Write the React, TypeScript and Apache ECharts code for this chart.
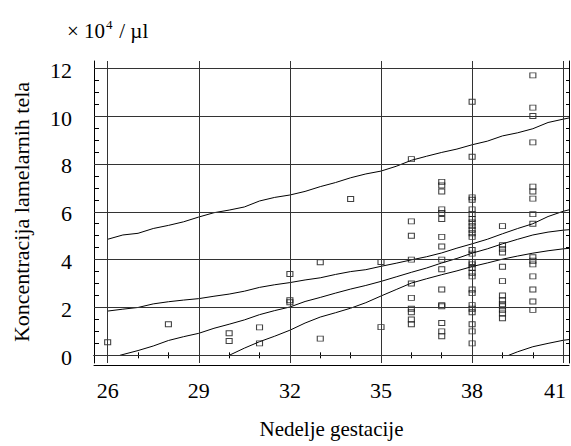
import React, { useEffect, useRef } from "react";
import * as echarts from "echarts";

// Gestational week of each measurement column
const weeks = [26, 28, 30, 31, 32, 33, 34, 35, 36, 37, 38, 39, 40];

// Lamellar body counts (×10^4 / µl) measured in each week
const counts: number[][] = [
  [0.55],
  [1.3],
  [0.92, 0.6],
  [1.17, 0.5],
  [3.4, 2.3, 2.22],
  [3.89, 0.7],
  [6.53],
  [3.9, 1.18],
  [8.2, 5.6, 5.0, 4.0, 3.0, 2.4, 1.95, 1.8, 1.5, 1.3],
  [7.25, 7.1, 6.85, 6.1, 5.95, 5.7, 4.95, 4.55, 4.0, 3.6, 2.75, 2.1, 2.05, 1.35, 1.0, 0.8],
  [10.6, 8.3, 6.6, 6.5, 6.1, 5.9, 5.7, 5.55, 5.4, 5.25, 5.1, 4.95, 4.4, 4.25, 3.9, 3.8, 3.65, 3.45, 3.3, 2.75, 2.6, 2.1, 1.95, 1.8, 1.3, 1.0, 0.5],
  [5.4, 4.6, 4.45, 4.3, 3.7, 3.1, 2.5, 2.3, 2.15, 2.05, 1.9, 1.75, 1.55],
  [11.7, 10.35, 10.0, 8.9, 7.05, 6.85, 6.55, 5.9, 5.5, 4.1, 3.95, 3.8, 3.3, 2.75, 2.25, 1.9],
];

// Reference curves: [week, concentration]
const curveUpper: [number, number][] = [
  [26, 4.85], [26.5, 5.03], [27, 5.1], [27.5, 5.3], [28, 5.43], [28.5, 5.58], [29, 5.78],
  [29.5, 5.96], [30, 6.07], [30.5, 6.2], [31, 6.45], [31.5, 6.6], [32, 6.7], [32.5, 6.85],
  [33, 7.05], [33.5, 7.22], [34, 7.42], [34.5, 7.58], [35, 7.7], [35.5, 7.9], [36, 8.15],
  [36.5, 8.32], [37, 8.48], [37.5, 8.62], [38, 8.8], [38.5, 8.95], [39, 9.17], [39.5, 9.3],
  [40, 9.47], [40.5, 9.73], [41, 9.87], [41.19, 9.92],
];
const curveUpperMid: [number, number][] = [
  [26, 1.85], [26.5, 1.93], [27, 2.0], [27.5, 2.15], [28, 2.24], [28.5, 2.31], [29, 2.37],
  [29.5, 2.47], [30, 2.56], [30.5, 2.68], [31, 2.84], [31.5, 2.95], [32, 3.04], [32.5, 3.15],
  [33, 3.24], [33.5, 3.38], [34, 3.5], [34.5, 3.58], [35, 3.72], [35.5, 3.85], [36, 3.99],
  [36.5, 4.12], [37, 4.28], [37.5, 4.48], [38, 4.66], [38.5, 4.85], [39, 5.08], [39.5, 5.3],
  [40, 5.5], [40.5, 5.8], [41, 6.02], [41.19, 6.08],
];
const curveMedian: [number, number][] = [
  [26.4, 0], [27, 0.2], [27.5, 0.39], [28, 0.62], [28.5, 0.78], [29, 0.92], [29.5, 1.13],
  [30, 1.3], [30.5, 1.48], [31, 1.7], [31.5, 1.87], [32, 2.02], [32.5, 2.25], [33, 2.42],
  [33.5, 2.6], [34, 2.77], [34.5, 2.92], [35, 3.09], [35.5, 3.28], [36, 3.47], [36.5, 3.65],
  [37, 3.86], [37.5, 4.05], [38, 4.27], [38.5, 4.45], [39, 4.66], [39.5, 4.85], [40, 5.03],
  [40.5, 5.15], [41, 5.23], [41.19, 5.25],
];
const curveLowerMid: [number, number][] = [
  [30, 0], [30.5, 0.3], [31, 0.57], [31.5, 0.8], [32, 1.05], [32.5, 1.35], [33, 1.6],
  [33.5, 1.78], [34, 1.97], [34.5, 2.2], [35, 2.48], [35.5, 2.75], [36, 3.02], [36.5, 3.2],
  [37, 3.37], [37.5, 3.53], [38, 3.71], [38.5, 3.86], [39, 4.02], [39.5, 4.15], [40, 4.27],
  [40.5, 4.37], [41, 4.45], [41.19, 4.47],
];
const curveLower: [number, number][] = [
  [39.2, 0], [39.5, 0.15], [40, 0.36], [40.5, 0.5], [41, 0.63], [41.19, 0.66],
];

// Axis ticks and labels
const xLabels = [26, 29, 32, 35, 38, 41];
const xMinorTicks = [26, 27, 28, 29, 30, 31, 32, 33, 34, 35, 36, 37, 38, 39, 40, 41];
const yLabels = [0, 2, 4, 6, 8, 10, 12];
const yMinorTicks = [
  0, 0.5, 1, 1.5, 2, 2.5, 3, 3.5, 4, 4.5, 5, 5.5, 6, 6.5, 7, 7.5, 8, 8.5, 9, 9.5, 10, 10.5,
  11, 11.5, 12,
];

const X_MIN = 25.55;
const X_MAX = 41.19;
const Y_MIN = -0.32;
const Y_MAX = 12.3;

const WIDTH = 571;
const HEIGHT = 446;
const FONT = "Liberation Serif";
const fontOf = (size: number) => `${size}px "Liberation Serif", serif`;

export default function App() {
  const ref = useRef<HTMLDivElement>(null);

  useEffect(() => {
    if (!ref.current) return;
    const chart = echarts.init(ref.current, undefined, { renderer: "svg" });

    const points: [number, number][] = [];
    weeks.forEach((w, i) => counts[i].forEach((v) => points.push([w, v])));

    const curveSeries = [curveUpper, curveUpperMid, curveMedian, curveLowerMid, curveLower].map(
      (data) => ({
        type: "line" as const,
        data,
        showSymbol: false,
        symbol: "none",
        lineStyle: { color: "#000", width: 1 },
        silent: true,
        z: 3,
      })
    );

    const plainAxis = {
      type: "value" as const,
      axisLine: { show: true, lineStyle: { color: "#000", width: 1 } },
      splitLine: { show: false },
      axisLabel: { show: false },
    };

    const innerTicks = (values: number[], length: number) => ({
      show: true,
      inside: true,
      length,
      customValues: values,
      lineStyle: { color: "#000" },
    });

    chart.setOption({
      animation: false,
      textStyle: { fontFamily: FONT, color: "#000" },
      grid: { left: 94, top: 61, width: 475, height: 302, containLabel: false },
      xAxis: [
        {
          ...plainAxis,
          position: "bottom",
          min: X_MIN,
          max: X_MAX,
          name: "Nedelje gestacije",
          nameLocation: "middle",
          nameGap: 55,
          nameTextStyle: { fontFamily: FONT, fontSize: 21, color: "#000" },
          axisTick: innerTicks(xMinorTicks, 3),
        },
        {
          ...plainAxis,
          position: "top",
          min: X_MIN,
          max: X_MAX,
          axisTick: innerTicks(xMinorTicks, 3),
        },
        {
          ...plainAxis,
          position: "bottom",
          offset: 2,
          min: X_MIN,
          max: X_MAX,
          axisTick: { show: false },
        },
      ],
      yAxis: [
        {
          ...plainAxis,
          position: "left",
          min: Y_MIN,
          max: Y_MAX,
          name: "Koncentracija lamelarnih tela",
          nameLocation: "middle",
          nameRotate: 90,
          nameGap: 62,
          nameTextStyle: { fontFamily: FONT, fontSize: 22, color: "#000" },
          axisTick: innerTicks(yMinorTicks, 5),
        },
        {
          ...plainAxis,
          position: "right",
          min: Y_MIN,
          max: Y_MAX,
          axisTick: innerTicks(yMinorTicks, 3),
        },
      ],
      series: [
        {
          type: "scatter",
          xAxisIndex: 0,
          yAxisIndex: 0,
          data: points,
          symbol: "rect",
          symbolSize: [6, 5],
          itemStyle: { color: "rgba(0,0,0,0)", borderColor: "#111", borderWidth: 1 },
          silent: true,
          z: 4,
          markLine: {
            silent: true,
            symbol: "none",
            label: { show: false },
            lineStyle: { color: "#333", width: 1, type: "solid" },
            data: [
              ...xLabels.map((v) => ({ xAxis: v })),
              ...yLabels.map((v) => ({ yAxis: v })),
            ],
          },
        },
        ...curveSeries,
      ],
    });

    // Tick labels placed through the axes' own scales
    const bottomY = chart.convertToPixel({ yAxisIndex: 0 }, Y_MIN) as number;
    const leftX = chart.convertToPixel({ xAxisIndex: 0 }, X_MIN) as number;

    const xTickTexts = xLabels.map((v) => {
      const px = chart.convertToPixel({ xAxisIndex: 0 }, v) as number;
      // keep the last label inside the canvas
      const x = Math.min(px, WIDTH - 16);
      return {
        type: "text",
        x,
        y: bottomY + 27,
        silent: true,
        style: { text: String(v), font: fontOf(22), fill: "#000", align: "center", verticalAlign: "middle" },
      };
    });
    const yTickTexts = yLabels.map((v) => ({
      type: "text",
      x: leftX - 22,
      y: (chart.convertToPixel({ yAxisIndex: 0 }, v) as number) + 2,
      silent: true,
      style: { text: String(v), font: fontOf(22), fill: "#000", align: "right", verticalAlign: "middle" },
    }));

    // Unit caption: × 10^4 / µl
    const unitCaption = [
      { type: "text", x: 67, y: 31, style: { text: "× 10", font: fontOf(21), fill: "#000", verticalAlign: "middle" } },
      { type: "text", x: 106, y: 24, style: { text: "4", font: fontOf(13), fill: "#000", verticalAlign: "middle" } },
      { type: "text", x: 114, y: 31, style: { text: " / µl", font: fontOf(21), fill: "#000", verticalAlign: "middle" } },
    ];

    chart.setOption({ graphic: [...xTickTexts, ...yTickTexts, ...unitCaption] });

    return () => chart.dispose();
  }, []);

  return <div ref={ref} style={{ width: WIDTH, height: HEIGHT, position: "absolute", left: 0, top: 0 }} />;
}
